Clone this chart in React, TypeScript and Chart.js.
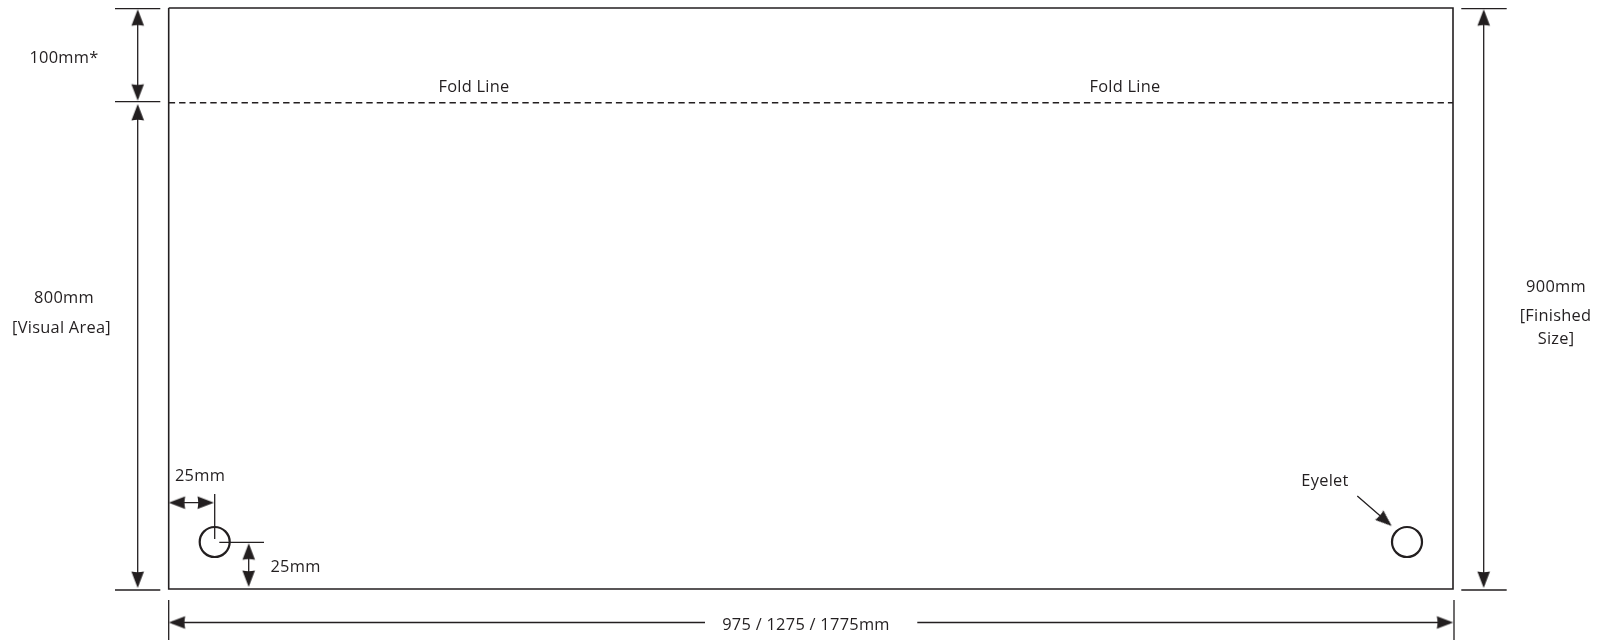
import React, { useEffect, useRef } from "react";
import { Chart, registerables } from "chart.js";

Chart.register(...registerables);

const INK = "#231f20";

// Sheet outline, in drawing units
const frameX = [168.7, 1453, 1453, 168.7, 168.7];
const frameY = [8, 8, 589, 589, 8];

// Fold line
const foldX = [168.7, 1453];
const foldY = [102.7, 102.7];

// Thin dimension and extension lines: [x1, y1, x2, y2]
const dimensionLines = [
  [115, 8.7, 160.3, 8.7],
  [115, 101.7, 160.3, 101.7],
  [115, 590, 160.3, 590],
  [1461.3, 8.7, 1506.7, 8.7],
  [1461.3, 590, 1506.7, 590],
  [137.7, 12, 137.7, 98],
  [137.7, 107, 137.7, 585],
  [1483.7, 12, 1483.7, 585],
  [168.7, 600, 168.7, 640],
  [1454, 600, 1454, 640],
  [172, 622.5, 705, 622.5],
  [917.3, 622.5, 1450, 622.5],
  [172, 502.7, 211, 502.7],
  [214.7, 494, 214.7, 539],
  [219.3, 542.3, 264, 542.3],
  [248.7, 546, 248.7, 584],
  [1357.3, 496, 1389, 523.5],
];

// Arrowheads: tip x, tip y, heading in degrees clockwise from up
const arrowTipX = [137.7, 137.7, 137.7, 137.7, 1483.7, 1483.7, 168.7, 1453.3, 168.7, 214, 248.7, 248.7, 1391.7];
const arrowTipY = [9.3, 100.7, 104, 588, 9.3, 588, 622.5, 622.5, 502.7, 502.7, 543.3, 587, 526];
const arrowHeading = [0, 180, 0, 180, 0, 180, 270, 90, 270, 90, 0, 180, 131];

// Eyelets
const eyeletX = [214.7, 1407];
const eyeletY = [542, 542];

// Labels
const labelText = [
  "100mm*", "Fold Line", "Fold Line", "800mm", "[Visual Area]", "900mm", "[Finished", "Size]",
  "25mm", "25mm", "Eyelet", "975 / 1275 / 1775mm",
];
const labelX = [64, 474, 1125, 64, 61.5, 1556, 1555.5, 1556, 200, 295.5, 1325, 806];
const labelY = [63, 91.5, 91.5, 303, 333.2, 292.3, 320.7, 344, 480.7, 572, 485.7, 630];

function makeArrowImage(): HTMLCanvasElement {
  const c = document.createElement("canvas");
  c.width = 40;
  c.height = 40;
  const g = c.getContext("2d")!;
  g.fillStyle = INK;
  g.beginPath();
  g.moveTo(20, 20);
  g.lineTo(26.3, 36.6);
  g.quadraticCurveTo(20, 35, 13.7, 36.6);
  g.closePath();
  g.fill();
  return c;
}

const points = (xs: number[], ys: number[]) => xs.map((x, i) => ({ x, y: ys[i] }));

const labelPlugin = {
  id: "sheetLabels",
  afterDatasetsDraw(chart: any) {
    const { ctx, scales } = chart;
    ctx.save();
    ctx.fillStyle = INK;
    ctx.font = '16.4px "Open Sans"';
    ctx.letterSpacing = "0.27px";
    ctx.textAlign = "center";
    ctx.textBaseline = "alphabetic";
    labelText.forEach((t, i) => {
      ctx.fillText(t, scales.x.getPixelForValue(labelX[i]), scales.y.getPixelForValue(labelY[i]));
    });
    ctx.restore();
  },
};

export default function App() {
  const ref = useRef<HTMLCanvasElement>(null);
  useEffect(() => {
    const base = { showLine: true, pointRadius: 0, borderColor: INK, fill: false, tension: 0, spanGaps: false };
    const dimData: any[] = [];
    dimensionLines.forEach(([x1, y1, x2, y2]) => {
      dimData.push({ x: x1, y: y1 }, { x: x2, y: y2 }, { x: x2, y: null });
    });
    const chart = new Chart(ref.current!, {
      type: "scatter",
      data: {
        datasets: [
          { ...base, label: "Sheet", data: points(frameX, frameY), borderWidth: 1.6 },
          { ...base, label: "Fold", data: points(foldX, foldY), borderWidth: 1.5, borderDash: [6.4, 4] },
          { ...base, label: "Dimensions", data: dimData, borderWidth: 1.3 },
          {
            label: "Arrowheads",
            data: points(arrowTipX, arrowTipY),
            showLine: false,
            pointStyle: makeArrowImage(),
            pointRadius: 20,
            pointRotation: arrowHeading,
          },
          {
            label: "Eyelets",
            data: points(eyeletX, eyeletY),
            showLine: false,
            pointStyle: "circle",
            pointRadius: 15,
            pointBackgroundColor: "rgba(0,0,0,0)",
            pointBorderColor: INK,
            pointBorderWidth: 2.2,
          },
        ] as any,
      },
      options: {
        responsive: false,
        animation: false,
        events: [],
        layout: { padding: 0, autoPadding: false },
        plugins: { legend: { display: false }, tooltip: { enabled: false }, title: { display: false } },
        scales: {
          x: { type: "linear", display: false, min: 0, max: 1606 },
          y: { type: "linear", display: false, min: 0, max: 640, reverse: true },
        },
      },
      plugins: [labelPlugin],
    });
    return () => chart.destroy();
  }, []);
  return (
    <canvas
      ref={ref}
      width={1606}
      height={640}
      style={{ position: "absolute", left: 0, top: 0, display: "block", width: 1606, height: 640 }}
    />
  );
}
